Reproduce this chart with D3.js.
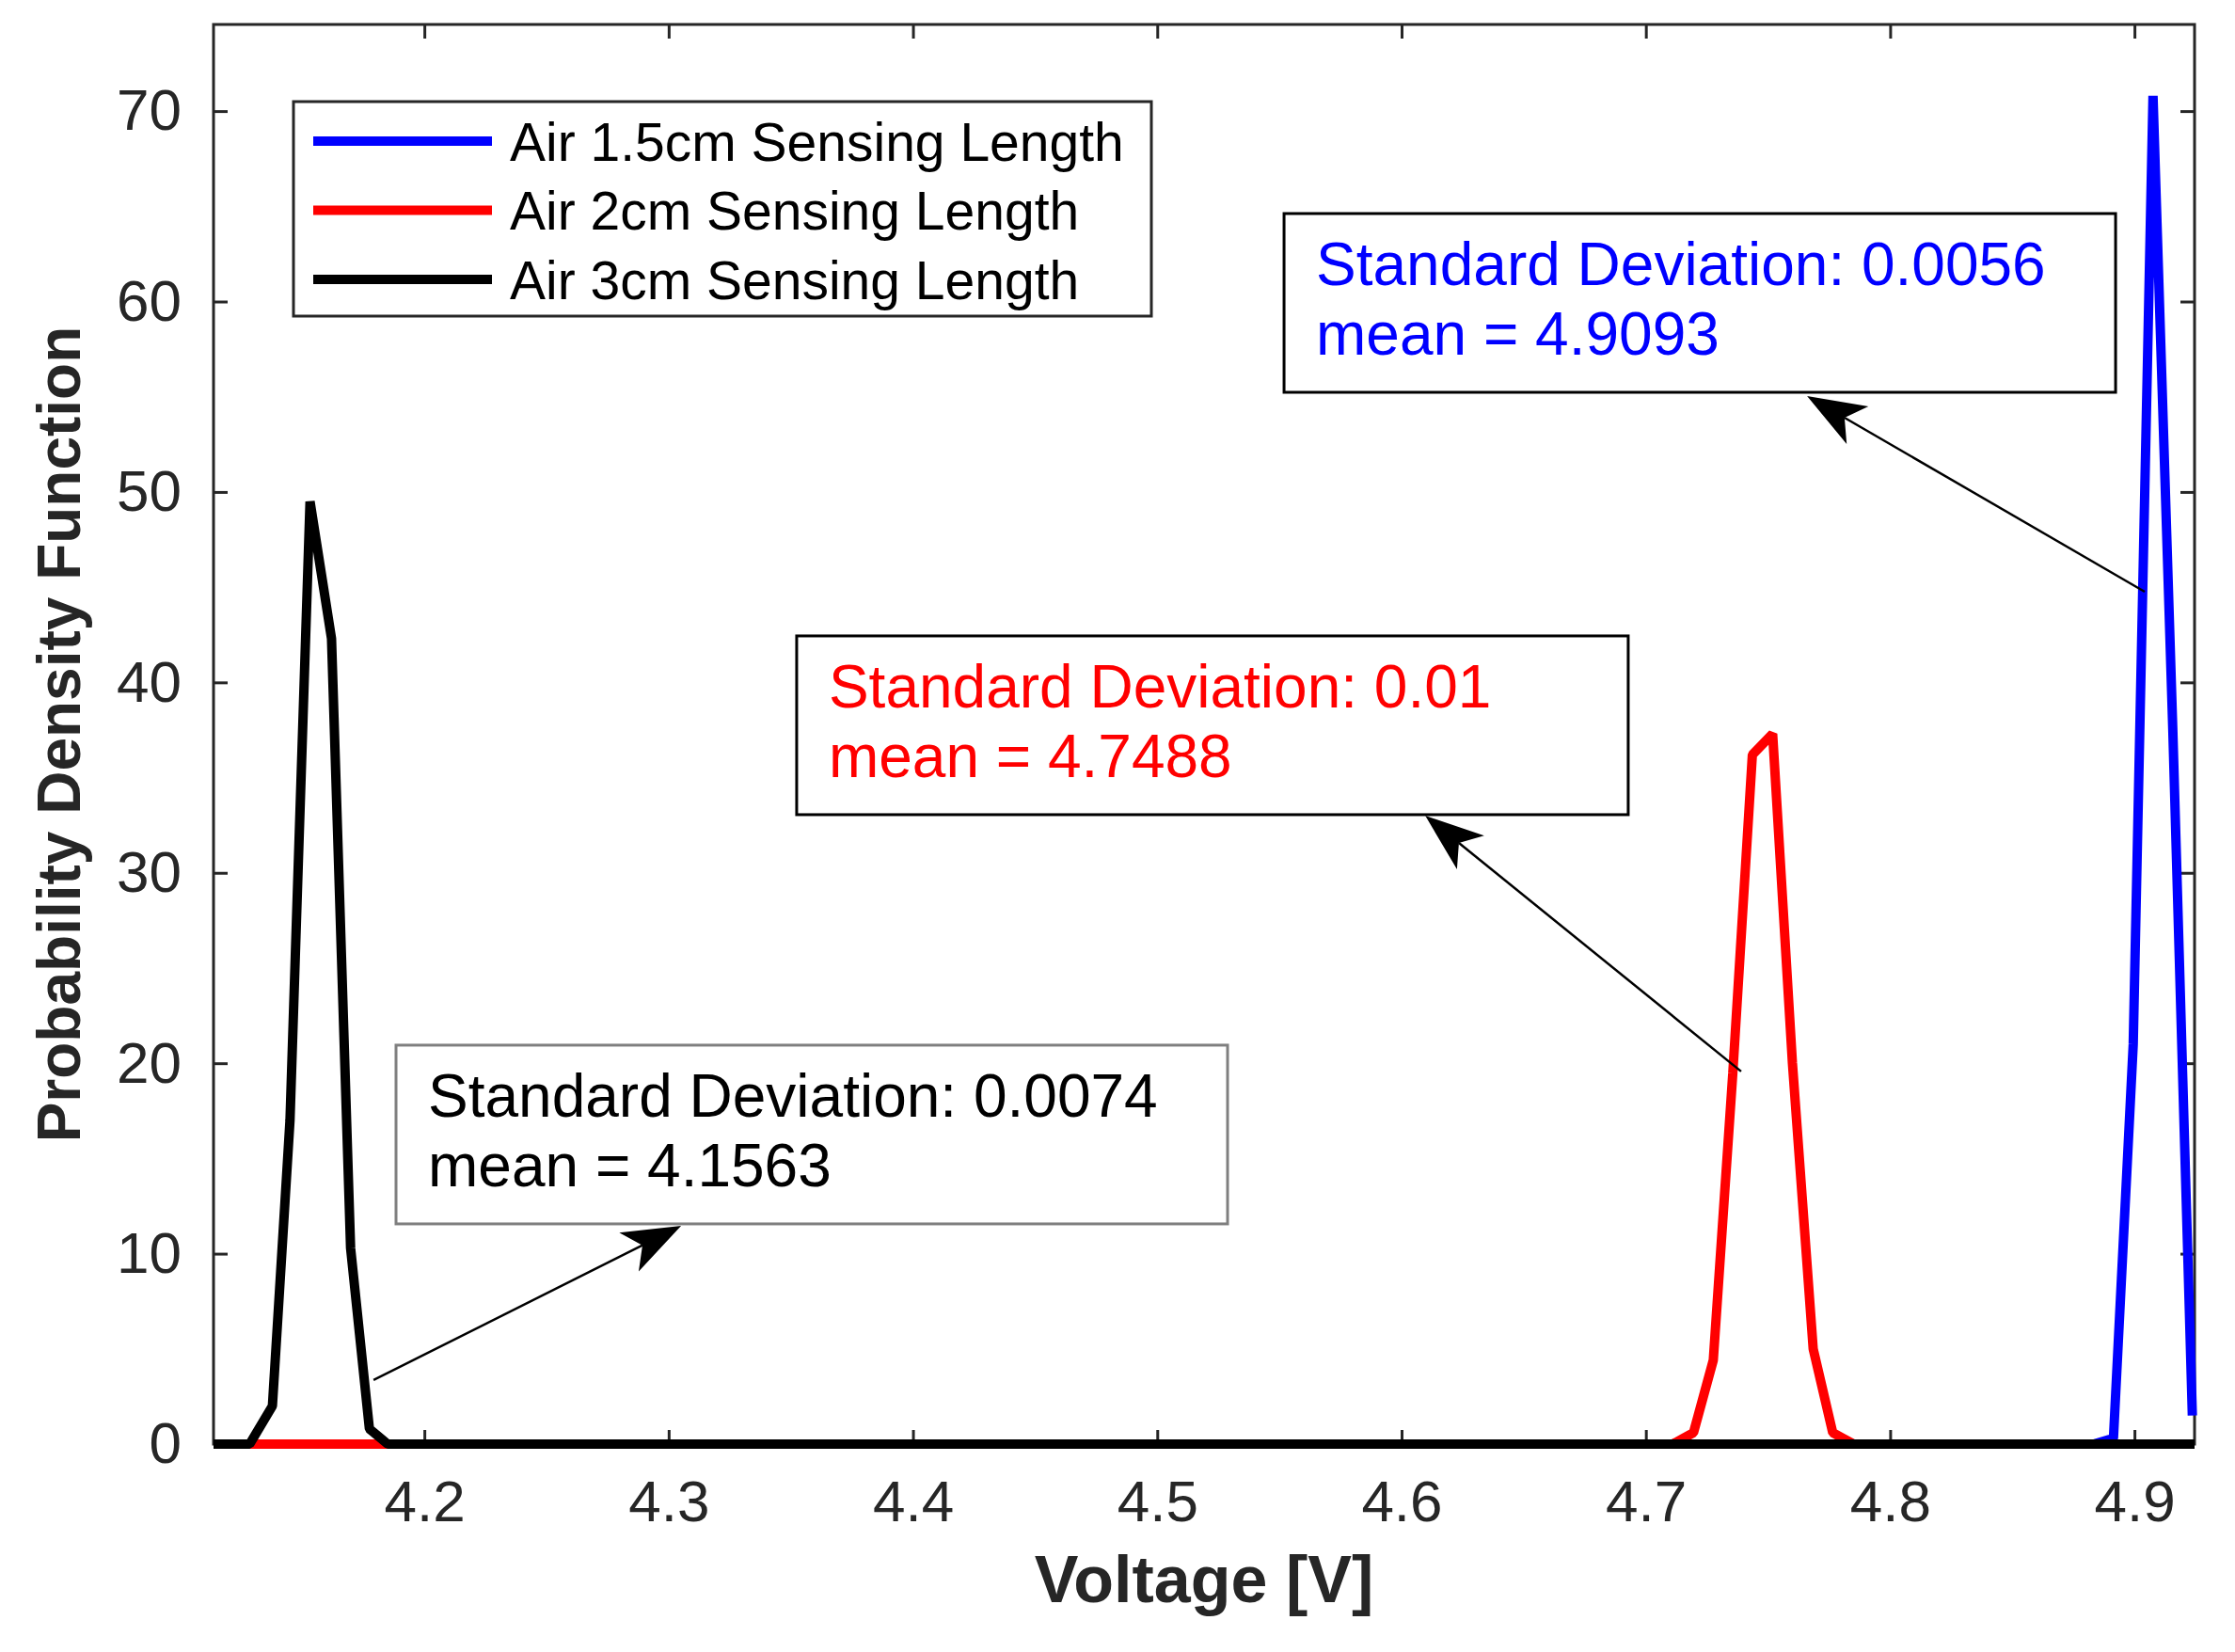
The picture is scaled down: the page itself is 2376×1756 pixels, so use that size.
<!DOCTYPE html>
<html>
<head>
<meta charset="utf-8">
<script src="https://cdn.jsdelivr.net/npm/d3@7"></script>
<style>
  body { margin: 0; background: #fff; }
  text { font-family: "Liberation Sans", Arial, Helvetica, sans-serif; }
</style>
</head>
<body>
<div id="chart-root"></div>
<script>
// PDF curves of the sensor voltage

const seriesNames = [
  "Air 1.5cm Sensing Length",
  "Air 2cm Sensing Length",
  "Air 3cm Sensing Length"
];

// Air 1.5cm (blue)
const blueX = [4.1137, 4.8833, 4.8914, 4.8995, 4.9076, 4.9157, 4.9237];
const blueY = [0, 0, 0.3, 21, 70.8, 37.5, 1.5];

// Air 2cm (red)
const redX = [4.1137, 4.7110, 4.7195, 4.7276, 4.7356, 4.7436, 4.7519, 4.7600, 4.7685, 4.7765, 4.7850, 4.9246];
const redY = [0, 0, 0.6, 4.4, 19.5, 36.2, 37.3, 20, 5, 0.6, 0, 0];

// Air 3cm (black)
const blackX = [4.1137, 4.1285, 4.1378, 4.1450, 4.1532, 4.1620, 4.1698, 4.1775, 4.1850, 4.9246];
const blackY = [0, 0, 2.0, 17, 49.5, 42.3, 10.3, 0.8, 0, 0];

const xTicks = [4.2, 4.3, 4.4, 4.5, 4.6, 4.7, 4.8, 4.9];
const yTicks = [0, 10, 20, 30, 40, 50, 60, 70];
const xDomain = [4.1137, 4.9246];
const yDomain = [0, 74.55];

// text boxes: label lines, box corner (data units) and the arrow tail -> tip (data units)
const noteLines = [
  ["Standard Deviation: 0.0056", "mean = 4.9093"],
  ["Standard Deviation: 0.01", "mean = 4.7488"],
  ["Standard Deviation: 0.0074", "mean = 4.1563"]
];
const noteBoxAt = [[4.5519, 64.62], [4.3524, 42.44], [4.1884, 20.95]];
const noteArrowFrom = [[4.9042, 44.76], [4.7390, 19.57], [4.1792, 3.36]];
const noteArrowTo = [[4.7660, 55.04], [4.6097, 33.0], [4.3051, 11.46]];

const lineColors = ["#0000ff", "#ff0000", "#000000"];
const noteTextColors = ["#0000ff", "#ff0000", "#000000"];
const noteBorderColors = ["#000000", "#000000", "#7f7f7f"];
const axisColor = "#262626";

const W = 2376, H = 1756;
const margin = { top: 26, right: 43, bottom: 221, left: 227 };

const svg = d3.select("#chart-root")
  .append("svg")
  .attr("width", W)
  .attr("height", H)
  .style("display", "block");

svg.append("rect").attr("width", W).attr("height", H).attr("fill", "#fff");

const x = d3.scaleLinear().domain(xDomain).range([margin.left, W - margin.right]);
const y = d3.scaleLinear().domain(yDomain).range([H - margin.bottom, margin.top]);

// Axes (ticks point inward on all four sides)

function styleAxis(g, showText) {
  g.select(".domain").remove();
  g.selectAll(".tick line").attr("stroke", axisColor).attr("stroke-width", 3);
  g.selectAll(".tick text")
    .attr("fill", axisColor)
    .attr("font-size", 62)
    .style("display", showText ? null : "none");
}

svg.append("g")
  .attr("transform", `translate(0,${y(0)})`)
  .call(d3.axisBottom(x).tickValues(xTicks).tickSizeInner(-15).tickSizeOuter(0)
    .tickPadding(38).tickFormat(d3.format(".1f")))
  .call(g => styleAxis(g, true));

svg.append("g")
  .attr("transform", `translate(0,${y(yDomain[1])})`)
  .call(d3.axisTop(x).tickValues(xTicks).tickSizeInner(-15).tickSizeOuter(0))
  .call(g => styleAxis(g, false));

svg.append("g")
  .attr("transform", `translate(${x(xDomain[0])},0)`)
  .call(d3.axisLeft(y).tickValues(yTicks).tickSizeInner(-15).tickSizeOuter(0)
    .tickPadding(34).tickFormat(d3.format("d")))
  .call(g => styleAxis(g, true));

svg.append("g")
  .attr("transform", `translate(${x(xDomain[1])},0)`)
  .call(d3.axisRight(y).tickValues(yTicks).tickSizeInner(-15).tickSizeOuter(0))
  .call(g => styleAxis(g, false));

// axes box
svg.append("rect")
  .attr("x", x(xDomain[0]))
  .attr("y", y(yDomain[1]))
  .attr("width", x(xDomain[1]) - x(xDomain[0]))
  .attr("height", y(0) - y(yDomain[1]))
  .attr("fill", "none")
  .attr("stroke", axisColor)
  .attr("stroke-width", 3);

// Curves

const series = [
  { name: seriesNames[0], pts: d3.zip(blueX, blueY), color: lineColors[0] },
  { name: seriesNames[1], pts: d3.zip(redX, redY), color: lineColors[1] },
  { name: seriesNames[2], pts: d3.zip(blackX, blackY), color: lineColors[2] }
];

const line = d3.line().x(d => x(d[0])).y(d => y(d[1]));

svg.append("g")
  .selectAll("path")
  .data(series)
  .join("path")
    .attr("d", d => line(d.pts))
    .attr("fill", "none")
    .attr("stroke", d => d.color)
    .attr("stroke-width", 10)
    .attr("stroke-linejoin", "bevel");

// Axis labels

svg.append("text")
  .attr("x", (x(xDomain[0]) + x(xDomain[1])) / 2)
  .attr("y", 1703)
  .attr("text-anchor", "middle")
  .attr("font-size", 70)
  .attr("font-weight", "bold")
  .attr("fill", axisColor)
  .text("Voltage [V]");

svg.append("text")
  .attr("transform", `translate(85,${(y(0) + y(yDomain[1])) / 2}) rotate(-90)`)
  .attr("text-anchor", "middle")
  .attr("font-size", 64)
  .attr("font-weight", "bold")
  .attr("fill", axisColor)
  .text("Probability Density Function");

// Legend

const legend = svg.append("g").attr("transform", "translate(312,108)");

legend.append("rect")
  .attr("width", 912)
  .attr("height", 228)
  .attr("fill", "#fff")
  .attr("stroke", axisColor)
  .attr("stroke-width", 3);

const legendRow = legend.selectAll("g.row")
  .data(series)
  .join("g")
    .attr("class", "row")
    .attr("transform", (d, i) => `translate(0,${42 + i * 73.5})`);

legendRow.append("line")
  .attr("x1", 21).attr("x2", 211)
  .attr("stroke", d => d.color)
  .attr("stroke-width", 10);

legendRow.append("text")
  .attr("x", 230)
  .attr("dy", "0.36em")
  .attr("font-size", 57)
  .attr("fill", "#000")
  .text(d => d.name);

// Text boxes with arrows

const boxW = 884, boxH = 190;
const notes = noteLines.map((lines, i) => ({
  lines,
  at: noteBoxAt[i],
  from: noteArrowFrom[i],
  to: noteArrowTo[i],
  color: noteTextColors[i],
  border: noteBorderColors[i]
}));

const noteG = svg.append("g")
  .selectAll("g")
  .data(notes)
  .join("g");

noteG.append("rect")
  .attr("x", d => x(d.at[0]))
  .attr("y", d => y(d.at[1]))
  .attr("width", boxW)
  .attr("height", boxH)
  .attr("fill", "none")
  .attr("stroke", d => d.border)
  .attr("stroke-width", 3);

noteG.each(function (d) {
  const g = d3.select(this);
  d.lines.forEach((t, k) => {
    g.append("text")
      .attr("x", x(d.at[0]) + 34)
      .attr("y", y(d.at[1]) + 76 + k * 74)
      .attr("font-size", 64)
      .attr("fill", d.color)
      .text(t);
  });

  // arrow: thin shaft and a notched filled head
  const x0 = x(d.from[0]), y0 = y(d.from[1]);
  const x1 = x(d.to[0]), y1 = y(d.to[1]);
  const len = Math.hypot(x1 - x0, y1 - y0);
  const ux = (x1 - x0) / len, uy = (y1 - y0) / len;
  const nx = -uy, ny = ux;
  const headL = 62, headW = 23, notch = 46;
  const bx = x1 - ux * headL, by = y1 - uy * headL;
  const mx = x1 - ux * notch, my = y1 - uy * notch;

  g.append("line")
    .attr("x1", x0).attr("y1", y0)
    .attr("x2", mx).attr("y2", my)
    .attr("stroke", "#000")
    .attr("stroke-width", 2.5);

  g.append("path")
    .attr("d", `M${x1},${y1}L${bx + nx * headW},${by + ny * headW}L${mx},${my}L${bx - nx * headW},${by - ny * headW}Z`)
    .attr("fill", "#000");
});
</script>
</body>
</html>
